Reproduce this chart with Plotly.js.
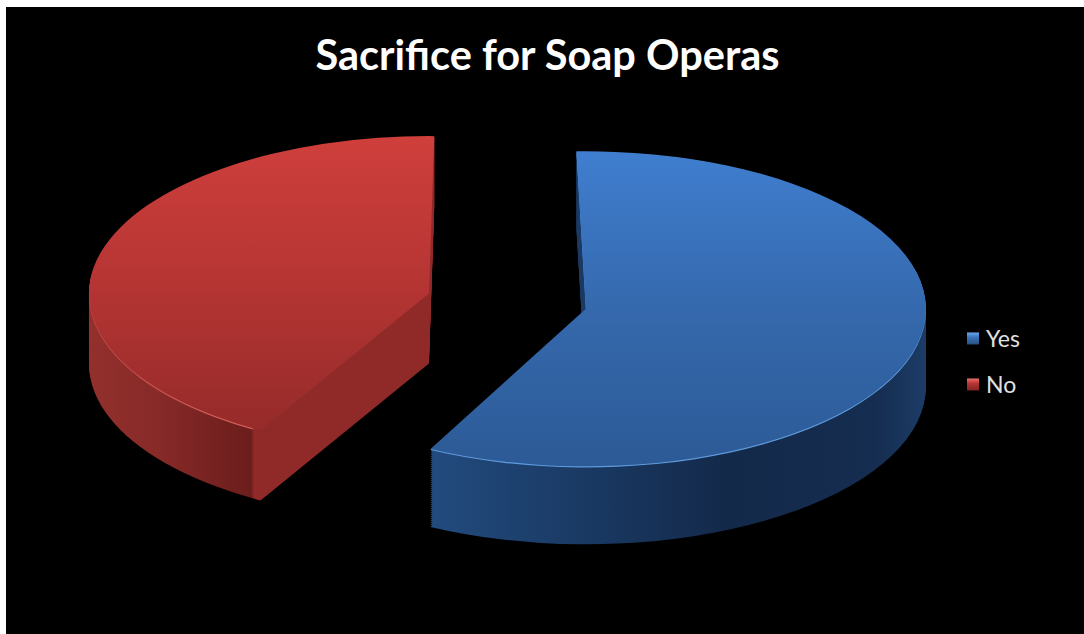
<!DOCTYPE html>
<html>
<head>
<meta charset="utf-8">
<script src="https://cdn.plot.ly/plotly-3.0.1.min.js"></script>
<style>
html,body{margin:0;padding:0;background:#fff;width:1084px;height:634px;overflow:hidden}
#chart{position:absolute;left:6px;top:7px;width:1078px;height:627px}
</style>
</head>
<body>
<div id="chart"></div>
<script>
const labels = ['Yes', 'No'];
const values = [58, 42];
const titleText = 'Sacrifice for Soap Operas';
const topColors = ['#3a74bf', '#b93634'];
const rimColors = ['#5f9ade', '#d9625c'];
const wallColors = ['#1c3d68', '#7f2523'];
const explode = 0.238;

const W = 1078, H = 627;
const flatRadius = 190, scaleX = 340 / flatRadius, scaleY = 157.5 / flatRadius;
const side = 2 * flatRadius * (1 + explode);
const cx0 = W / 2, cy0 = 245;
const step = 2;
// one pass of layers for each slice: index into labels, turn of the pie, depth, vertical nudge
const wedgeYes = {show: 0, rotation: -1.6, layers: 39, nudge: -1};
const wedgeNo = {show: 1, rotation: 0.9, layers: 35, nudge: 2};

function domainAt(offsetPx) {
  const cy = cy0 + offsetPx / scaleY;
  return {x: [(cx0 - side / 2) / W, (cx0 + side / 2) / W],
          y: [1 - (cy + side / 2) / H, 1 - (cy - side / 2) / H]};
}
const roles = [];
function pieTrace(wedge, offsetPx, colors, legend, role) {
  roles.push({show: wedge.show, role: role});
  return {type: 'pie', labels: labels, values: values, sort: false, direction: 'clockwise',
    rotation: wedge.rotation, pull: [explode, explode], textinfo: 'none', hoverinfo: 'label+percent',
    showlegend: legend, domain: domainAt(offsetPx + wedge.nudge),
    marker: {colors: colors, line: {width: 0}}};
}
const traces = [];
[wedgeYes, wedgeNo].forEach(w => {
  for (let k = w.layers; k >= 1; k--) traces.push(pieTrace(w, k * step, wallColors, false, 'wall'));
  traces.push(pieTrace(w, 1.2, rimColors, false, 'rim'));
});
[wedgeYes, wedgeNo].forEach(w => traces.push(pieTrace(w, 0, topColors, w === wedgeYes, 'top')));

const layout = {
  width: W, height: H, autosize: false,
  paper_bgcolor: '#000', plot_bgcolor: '#000',
  margin: {l: 0, r: 0, t: 0, b: 0, pad: 0, autoexpand: false},
  title: {text: titleText, x: 541.5 / W, xanchor: 'center', y: 1 - 48 / H, yanchor: 'middle',
          font: {family: 'Lato', size: 41.5, color: '#fff', weight: 700}},
  showlegend: true,
  legend: {x: 947 / W, y: 1 - 310 / H, xanchor: 'left', yanchor: 'top', bgcolor: 'rgba(0,0,0,0)',
           font: {family: 'Lato', size: 23, color: '#e0e0e0'}, itemclick: false, itemdoubleclick: false}
};

function gradient(defs, id, vertical, stops) {
  const ns = 'http://www.w3.org/2000/svg';
  const g = document.createElementNS(ns, 'linearGradient');
  g.setAttribute('id', id);
  g.setAttribute('x1', 0); g.setAttribute('y1', 0);
  g.setAttribute('x2', vertical ? 0 : 1); g.setAttribute('y2', vertical ? 1 : 0);
  stops.forEach(s => {
    const st = document.createElementNS(ns, 'stop');
    st.setAttribute('offset', s[0]); st.setAttribute('stop-color', s[1]);
    g.appendChild(st);
  });
  defs.appendChild(g);
}

Plotly.newPlot('chart', traces, layout, {displayModeBar: false}).then(() => {
  const root = document.getElementById('chart');
  const svg = root.querySelector('.main-svg');
  const defs = svg.querySelector('defs');
  gradient(defs, 'topYes', true, [[0, '#3f7ecf'], [0.5, '#3569ad'], [1, '#2c5a96']]);
  gradient(defs, 'topNo', true, [[0, '#cf3f3c'], [0.5, '#b53533'], [1, '#952b2a']]);
  gradient(defs, 'wallYes', false, [[0, '#224b7e'], [0.3, '#1a3a64'], [0.6, '#13294a'], [0.9, '#152d50'], [1, '#1c3c66']]);
  gradient(defs, 'wallNo', false, [[0, '#93302d'], [0.2, '#872a28'], [0.47, '#6b1d1c'], [0.478, '#8f2a28'], [1, '#8f2a28']]);
  gradient(defs, 'rimNo', false, [[0, '#c9504b'], [0.47, '#d9625c'], [0.478, '#8f2a28'], [1, '#8f2a28']]);
  gradient(defs, 'swatchYes', true, [[0, '#6aa6e8'], [0.4, '#3a74bf'], [1, '#27507f']]);
  gradient(defs, 'swatchNo', true, [[0, '#e8706a'], [0.4, '#b93634'], [1, '#7f2523']]);

  const tx = 501 - scaleX * cx0, ty = 294.5 - scaleY * cy0;
  root.querySelectorAll('.pielayer').forEach(l =>
    l.setAttribute('transform', `matrix(${scaleX} 0 0 ${scaleY} ${tx} ${ty})`));

  root.querySelectorAll('.pielayer .trace').forEach((g, idx) => {
    const paths = g.querySelectorAll('.slice path.surface');
    const r = roles[idx];
    paths[1 - r.show].style.display = 'none';
    const p = paths[r.show];
    if (r.role === 'wall') p.style.fill = r.show === 0 ? 'url(#wallYes)' : 'url(#wallNo)';
    else if (r.role === 'top') p.style.fill = r.show === 0 ? 'url(#topYes)' : 'url(#topNo)';
    else if (r.show === 1) p.style.fill = 'url(#rimNo)';
  });

  const items = root.querySelectorAll('.legend .traces');
  const parse = el => {
    const m = (el.getAttribute('transform') || '').match(/translate\(([^,]+),\s*([^)]+)\)/);
    return m ? [parseFloat(m[1]), parseFloat(m[2])] : [0, 0];
  };
  if (items[1]) {
    const a = parse(items[0]), b = parse(items[1]);
    items[1].setAttribute('transform', `translate(${b[0]},${a[1] + 46})`);
  }
  items.forEach((it, i) => {
    const t = it.querySelector('text.legendtext');
    if (t) t.setAttribute('x', parseFloat(t.getAttribute('x')) - 7);
    const sw = it.querySelector('.legendpoints path');
    if (sw) {
      sw.style.fill = i === 0 ? 'url(#swatchYes)' : 'url(#swatchNo)';
    }
  });
  root.querySelectorAll('.legend .scrollbox').forEach(s => s.removeAttribute('clip-path'));
  root.querySelectorAll('.legend').forEach(s => s.removeAttribute('clip-path'));
});
</script>
</body>
</html>
